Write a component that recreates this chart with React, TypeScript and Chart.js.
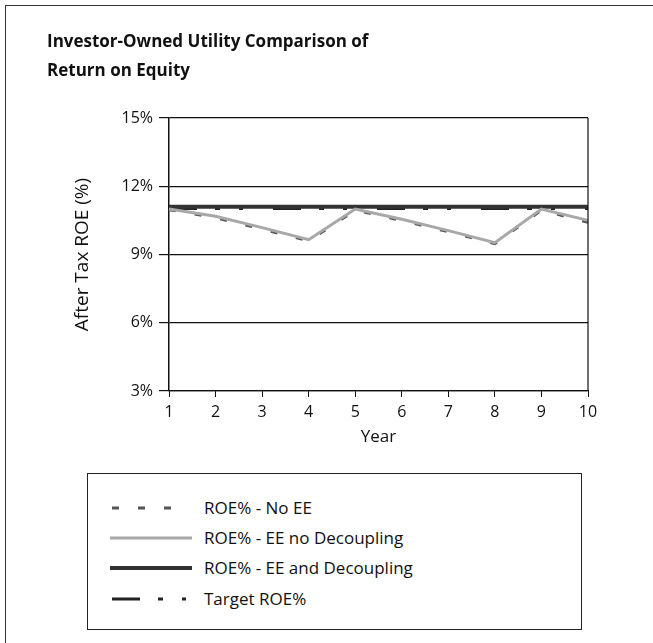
import React, { useEffect, useRef } from "react";
import { Chart, registerables } from "chart.js";

Chart.register(...registerables);

const years = ["1", "2", "3", "4", "5", "6", "7", "8", "9", "10"];
const roeNoEE = [10.97, 10.62, 10.12, 9.6, 10.95, 10.5, 10.0, 9.48, 10.95, 10.42];
const roeEENoDecoupling = [11.0, 10.68, 10.18, 9.65, 11.0, 10.55, 10.05, 9.52, 11.0, 10.5];
const roeEEDecoupling = [11.1, 11.1, 11.1, 11.1, 11.1, 11.1, 11.1, 11.1, 11.1, 11.1];
const targetROE = [11.0, 11.0, 11.0, 11.0, 11.0, 11.0, 11.0, 11.0, 11.0, 11.0];
const yTicks = [3, 6, 9, 12, 15];

const seriesNames = [
  "ROE% - No EE",
  "ROE% - EE no Decoupling",
  "ROE% - EE and Decoupling",
  "Target ROE%",
];

const FONT = "'Open Sans', 'Noto Sans', sans-serif";

const framePlugin = {
  id: "frame",
  afterDatasetsDraw(chart: any) {
    const { ctx, chartArea } = chart;
    ctx.save();
    ctx.strokeStyle = "#111";
    ctx.lineWidth = 1.2;
    ctx.beginPath();
    ctx.moveTo(chartArea.right, chartArea.top);
    ctx.lineTo(chartArea.right, chartArea.bottom);
    ctx.stroke();
    ctx.restore();
  },
};

function LegendSample({ idx }: { idx: number }) {
  const w = 82;
  if (idx === 0)
    return (
      <svg width={w} height={10}>
        <line x1={2} y1={5} x2={80} y2={5} stroke="#555" strokeWidth={3} strokeDasharray="7 19" />
      </svg>
    );
  if (idx === 1)
    return (
      <svg width={w} height={10}>
        <line x1={0} y1={5} x2={w} y2={5} stroke="#a8a8a8" strokeWidth={3} />
      </svg>
    );
  if (idx === 2)
    return (
      <svg width={w} height={10}>
        <line x1={0} y1={5} x2={w} y2={5} stroke="#333" strokeWidth={4} />
      </svg>
    );
  return (
    <svg width={w} height={10}>
      <line x1={2} y1={5} x2={80} y2={5} stroke="#222" strokeWidth={3} strokeDasharray="28 18 5 19 4 30" />
    </svg>
  );
}

export default function App() {
  const ref = useRef<HTMLCanvasElement | null>(null);

  useEffect(() => {
    if (!ref.current) return;
    const chart = new Chart(ref.current, {
      type: "line",
      data: {
        labels: years,
        datasets: [
          {
            label: seriesNames[1],
            data: roeEENoDecoupling,
            borderColor: "#a8a8a8",
            borderWidth: 3,
            pointRadius: 0,
            tension: 0,
          },
          {
            label: seriesNames[0],
            data: roeNoEE,
            borderColor: "#555",
            borderWidth: 3,
            borderDash: [7, 19],
            pointRadius: 0,
            tension: 0,
          },
          {
            label: seriesNames[2],
            data: roeEEDecoupling,
            borderColor: "#333",
            borderWidth: 4,
            pointRadius: 0,
            tension: 0,
          },
          {
            label: seriesNames[3],
            data: targetROE,
            borderColor: "#222",
            borderWidth: 2,
            borderDash: [28, 18, 5, 19, 4, 30],
            pointRadius: 0,
            tension: 0,
          },
        ],
      },
      options: {
        responsive: false,
        animation: false,
        layout: { padding: { left: 68, top: 118, right: 65, bottom: 9 } },
        plugins: {
          legend: { display: false },
          tooltip: { enabled: false },
          title: { display: false },
        },
        scales: {
          x: {
            type: "category",
            offset: false,
            afterFit: (s: any) => {
              s.height = 60;
            },
            grid: {
              drawOnChartArea: false,
              drawTicks: true,
              tickLength: 6,
              color: "#111",
            },
            border: { display: true, color: "#111", width: 1.2 },
            ticks: {
              color: "#111",
              padding: 6,
              maxRotation: 0,
              font: { family: FONT, size: 16 },
            },
            title: {
              display: true,
              text: "Year",
              color: "#111",
              font: { family: FONT, size: 17 },
              padding: { top: 4, bottom: 4 },
            },
          },
          y: {
            min: 3,
            max: 15,
            afterFit: (s: any) => {
              s.width = 101;
            },
            afterBuildTicks: (s: any) => {
              s.ticks = yTicks.map((v) => ({ value: v }));
            },
            grid: {
              drawTicks: true,
              tickLength: 10,
              color: "#111",
              lineWidth: 1.2,
            },
            border: { display: true, color: "#111", width: 1.5 },
            ticks: {
              color: "#111",
              padding: 6,
              font: { family: FONT, size: 16 },
              callback: (v: any) => v + "%",
            },
            title: {
              display: true,
              text: "After Tax ROE (%)",
              color: "#111",
              font: { family: FONT, size: 19 },
              padding: { top: 3, bottom: 4 },
            },
          },
        },
      },
      plugins: [framePlugin],
    });
    return () => chart.destroy();
  }, []);

  const rowY = [508, 538, 568, 599];

  return (
    <div
      style={{
        position: "fixed",
        left: 0,
        top: 0,
        width: 653,
        height: 643,
        overflow: "hidden",
        background: "#fff",
        fontFamily: FONT,
        color: "#111",
      }}
    >
      <div
        style={{
          position: "absolute",
          left: 5,
          top: 5,
          width: 700,
          height: 700,
          borderLeft: "1.5px solid #333",
          borderTop: "1.5px solid #333",
        }}
      />
      <canvas
        ref={ref}
        width={653}
        height={460}
        style={{ position: "absolute", left: 0, top: 0, width: 653, height: 460 }}
      />
      <div
        style={{
          position: "absolute",
          left: 47,
          top: 26,
          fontSize: 17,
          fontWeight: 700,
          lineHeight: "29px",
          whiteSpace: "nowrap",
        }}
      >
        <div>Investor-Owned Utility Comparison of</div>
        <div>Return on Equity</div>
      </div>
      <div
        style={{
          position: "absolute",
          left: 87,
          top: 473,
          width: 495,
          height: 157,
          boxSizing: "border-box",
          border: "1.5px solid #222",
        }}
      />
      {seriesNames.map((name, i) => (
        <div
          key={name}
          style={{
            position: "absolute",
            left: 110,
            top: rowY[i] - 12,
            height: 24,
            display: "flex",
            alignItems: "center",
            whiteSpace: "nowrap",
          }}
        >
          <div style={{ width: 94, display: "flex", alignItems: "center" }}>
            <LegendSample idx={i} />
          </div>
          <span style={{ fontSize: 17, lineHeight: "24px" }}>{name}</span>
        </div>
      ))}
    </div>
  );
}
